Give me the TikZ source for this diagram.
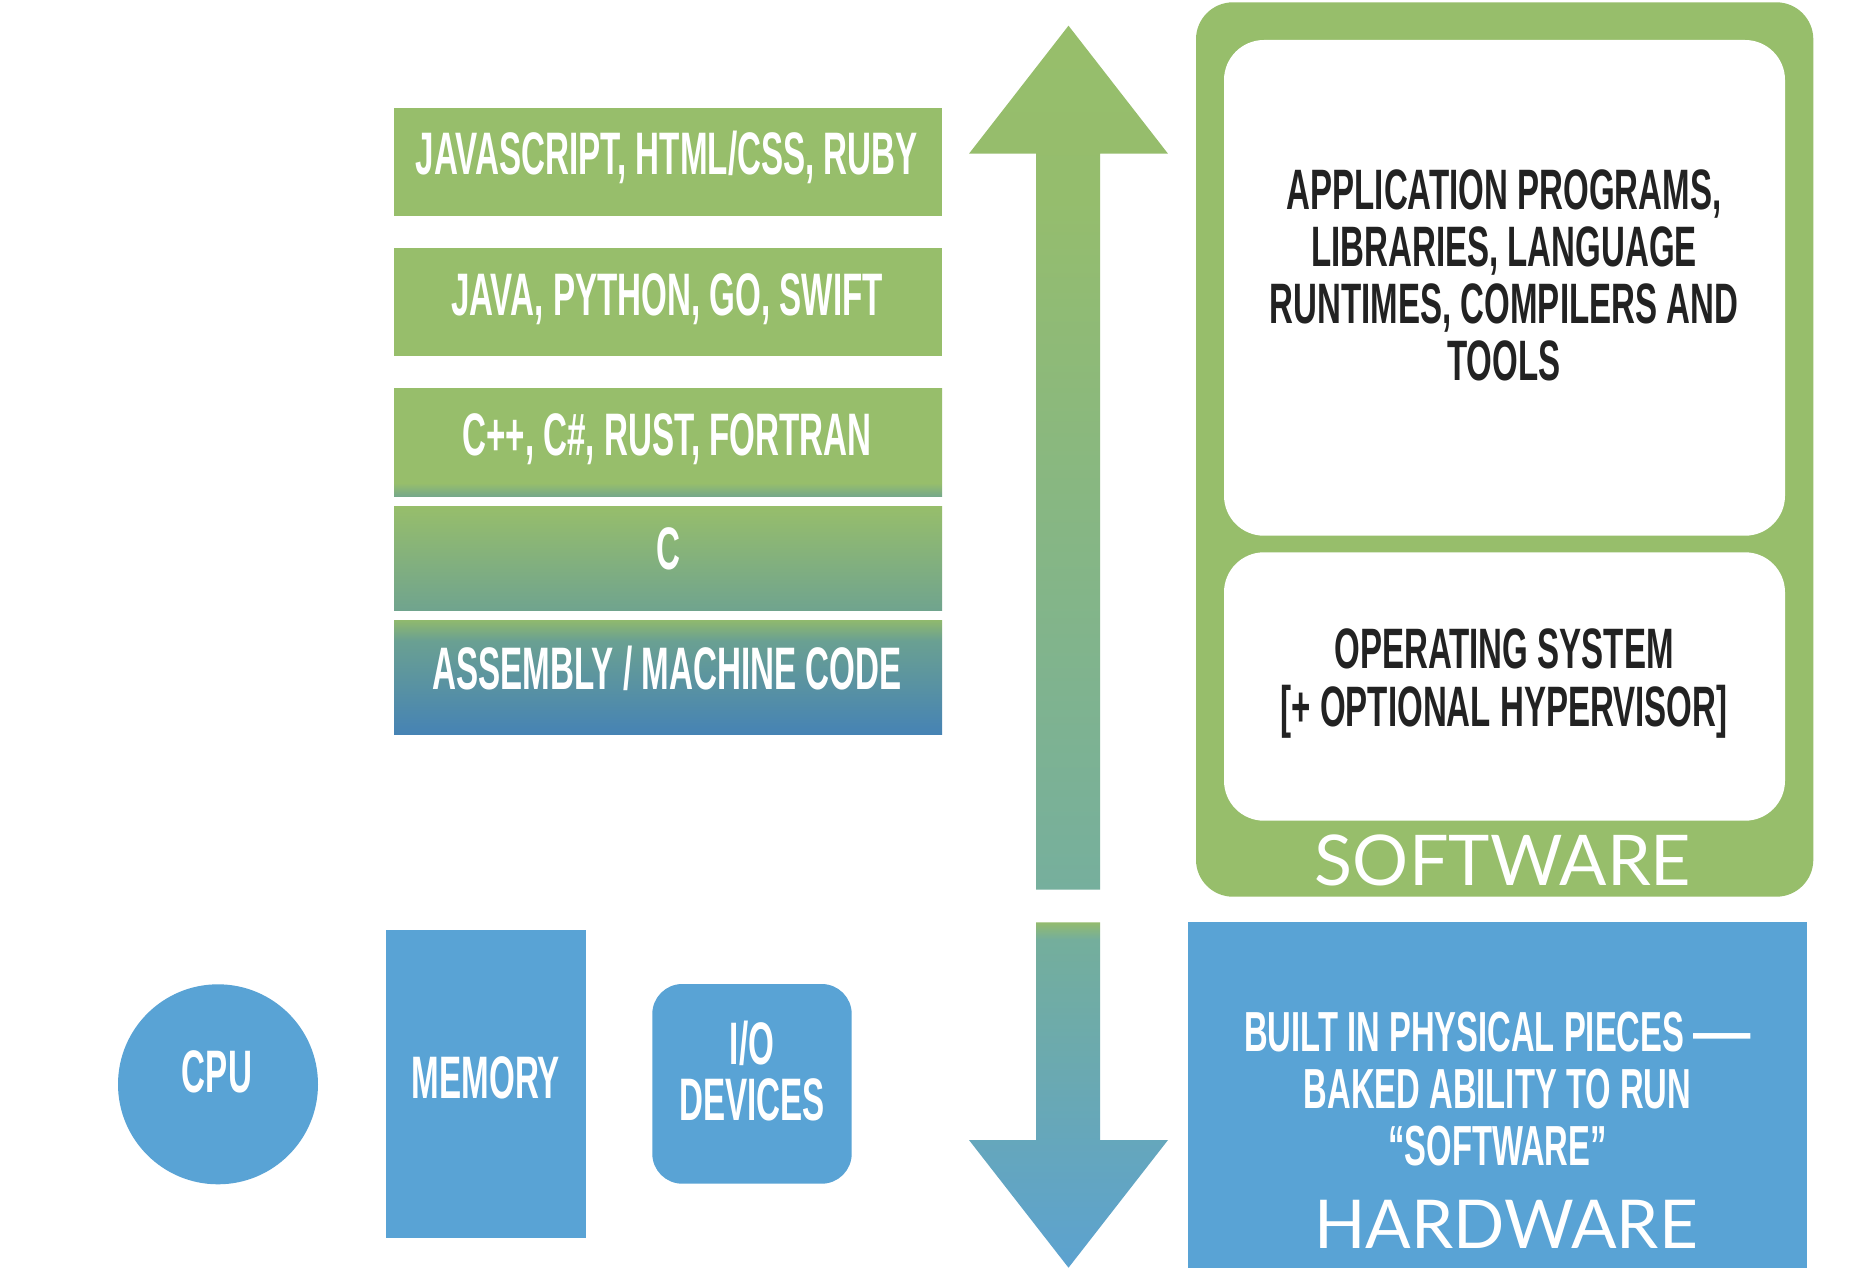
\documentclass[tikz,border=0pt]{standalone}
\usepackage{graphicx}
\usepackage{fontspec}
\newfontfamily\dinL{Liberation Sans}[UprightFont={* Bold},FakeStretch=0.553]
\newfontfamily\dinR{Liberation Sans}[UprightFont={* Bold},FakeStretch=0.58]
\newfontfamily\latofont{Lato}
\definecolor{sgreen}{HTML}{97BE6B}
\definecolor{sblue}{HTML}{59A3D5}
\definecolor{sdark}{HTML}{222222}
\definecolor{cppbot}{HTML}{76A98A}
\definecolor{cbot}{HTML}{70A48E}
\definecolor{asmtop}{HTML}{90B96D}
\definecolor{asmmid}{HTML}{6AA092}
\definecolor{asmbot}{HTML}{4683B4}
\definecolor{upmid}{HTML}{95BD6D}
\definecolor{upbot}{HTML}{76AF9D}
\definecolor{dntop}{HTML}{93BB6E}
\definecolor{dnmid}{HTML}{74AE9C}
\definecolor{dnbot}{HTML}{5CA2D0}
\pgfdeclareverticalshading{cppshade}{100bp}{color(0bp)=(cppbot); color(25bp)=(cppbot); color(31bp)=(sgreen); color(100bp)=(sgreen)}
\pgfdeclareverticalshading{cshade}{100bp}{color(0bp)=(cbot); color(25bp)=(cbot); color(75bp)=(sgreen); color(100bp)=(sgreen)}
\pgfdeclareverticalshading{asmshade}{100bp}{color(0bp)=(asmbot); color(25bp)=(asmbot); color(66bp)=(asmmid); color(75bp)=(asmtop); color(100bp)=(asmtop)}
\pgfdeclareverticalshading{upshade}{100bp}{color(0bp)=(upbot); color(25bp)=(upbot); color(65bp)=(upmid); color(75bp)=(sgreen); color(100bp)=(sgreen)}
\pgfdeclareverticalshading{dnshade}{100bp}{color(0bp)=(dnbot); color(25bp)=(dnbot); color(72.5bp)=(dnmid); color(75bp)=(dntop); color(100bp)=(dntop)}
\begin{document}
\begin{tikzpicture}[x=1pt,y=-1pt,
  langbox/.style={rectangle, draw=none, inner sep=0pt, minimum width=548pt, minimum height=108pt},
  whitebox/.style={rectangle, rounded corners=40pt, fill=white, draw=none, inner sep=0pt, minimum width=561pt},
  lefttxt/.style={font=\dinL\fontsize{60}{60}\selectfont, text=white, inner sep=0pt, anchor=base},
  righttxt/.style={font=\dinR\fontsize{57}{57.2}\selectfont, text=sdark, inner sep=0pt, anchor=base, align=center},
  hwtxt/.style={font=\dinR\fontsize{56.5}{56.7}\selectfont, text=white, inner sep=0pt, anchor=base, align=center},
  bigtxt/.style={font=\latofont, text=white, inner sep=0pt, anchor=base},
  hwpart/.style={fill=sblue, draw=none, inner sep=0pt}
]
\useasboundingbox[fill=white] (0,0) rectangle (1864,1284);

% language stack
\node[langbox, fill=sgreen, minimum height=108pt] (js) at (668,162) {};
\node[langbox, fill=sgreen, minimum height=108pt] (java) at (668,302) {};
\node[langbox, shading=cppshade, minimum height=108pt] (cpp) at (668,442) {};
\node[langbox, shading=cshade, minimum height=104pt] (c) at (668,558) {};
\node[langbox, shading=asmshade, minimum height=114pt] (asm) at (668,677) {};
\node[lefttxt] (jst) at (667,175) {JAVASCRIPT, HTML/CSS, RUBY};
\node[lefttxt] (javat) at (667,315) {JAVA, PYTHON, GO, SWIFT};
\node[lefttxt] (cppt) at (667,455) {C++, C\#, RUST, FORTRAN};
\node[lefttxt] (ct) at (668,569.3) {C};
\node[lefttxt] (asmt) at (667,689.3) {ASSEMBLY / MACHINE CODE};

% arrows
\coordinate (uptip) at (1068.5,25.7);
\shade[shading=upshade] (uptip) -- (1168,153.7) -- (1100,153.7) -- (1100,889.7) -- (1036,889.7) -- (1036,153.7) -- (969,153.7) -- cycle;
\coordinate (dntip) at (1068.5,1267.7);
\shade[shading=dnshade] (1036,922.3) -- (1100,922.3) -- (1100,1140) -- (1168,1140) -- (dntip) -- (969,1140) -- (1036,1140) -- cycle;

% software
\node[rectangle, rounded corners=37pt, fill=sgreen, draw=none, inner sep=0pt, minimum width=617.3pt, minimum height=894.4pt] (sw) at (1504.65,449.5) {};
\node[whitebox, minimum height=495.7pt] (app) at (1504.5,287.85) {};
\node[whitebox, minimum height=268.4pt] (os) at (1504.5,686.5) {};
\node[righttxt] (appt) at (1504,380.7) {APPLICATION PROGRAMS,\\LIBRARIES, LANGUAGE\\RUNTIMES, COMPILERS AND\\TOOLS};
\node[righttxt] (ost) at (1504,726) {OPERATING SYSTEM\\{[}+ OPTIONAL HYPERVISOR{]}};
\node[bigtxt, font=\latofont\fontsize{70}{70}\selectfont] (swt) at (1503,885) {SOFTWARE};

% hardware
\node[hwpart, rectangle, minimum width=619pt, minimum height=346pt] (hw) at (1497.5,1094.7) {};
\node[hwtxt] (hwt) at (1497.5,1165) {BUILT IN PHYSICAL PIECES \scalebox{1.75}[1]{—}\\BAKED ABILITY TO RUN\\“SOFTWARE”};
\node[bigtxt, font=\latofont\fontsize{67.4}{67.4}\selectfont] (hwl) at (1506,1248.3) {HARDWARE};

\node[hwpart, circle, minimum size=200pt] (cpu) at (218,1084.3) {};
\node[lefttxt] (cput) at (217,1092.3) {CPU};
\node[hwpart, rectangle, minimum width=200pt, minimum height=307.7pt] (mem) at (486,1083.85) {};
\node[lefttxt] (memt) at (486,1098.3) {MEMORY};
\node[hwpart, rectangle, rounded corners=30pt, minimum width=199.4pt, minimum height=199.7pt] (io) at (752,1083.85) {};
\node[lefttxt, align=center, font=\dinL\fontsize{60}{56}\selectfont] (iot) at (752,1120) {I/O\\DEVICES};
\end{tikzpicture}
\end{document}
